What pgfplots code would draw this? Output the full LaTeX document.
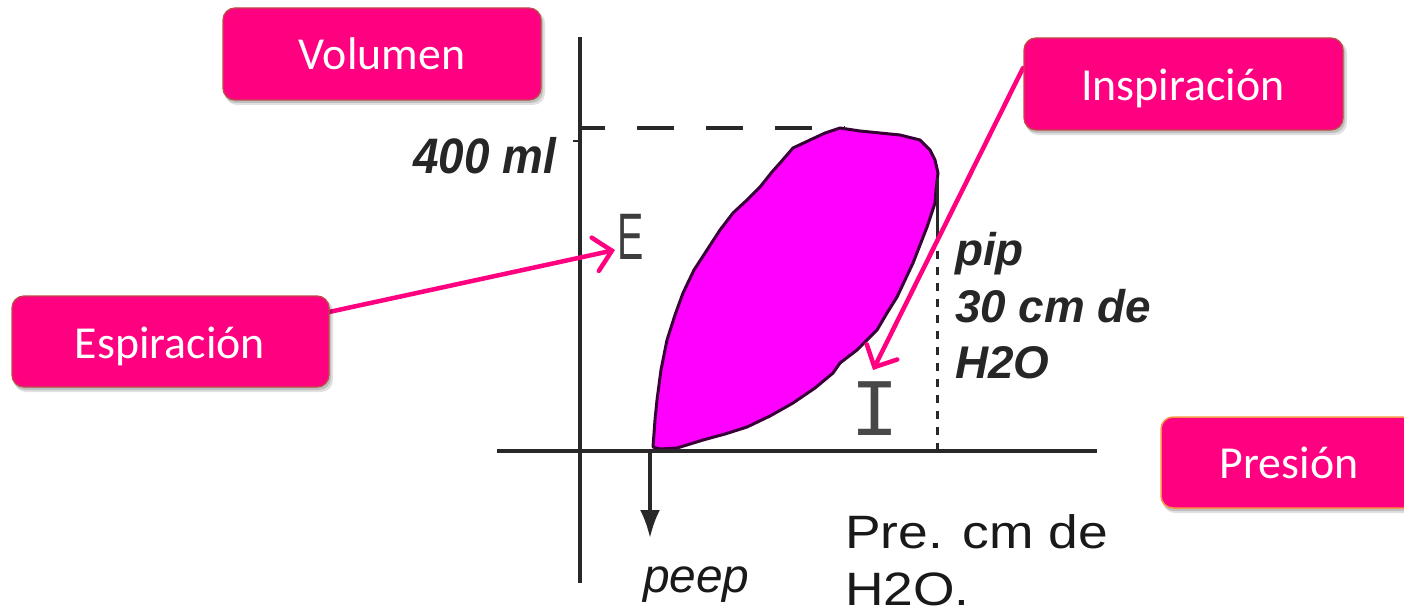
\documentclass[border=0pt]{standalone}
\usepackage{pgfplots}
\pgfplotsset{compat=1.18}
\usepackage{fontspec}
\setmainfont{Carlito}
\newfontfamily\arial{Liberation Sans}
\newfontfamily\mono{Liberation Mono}
\usetikzlibrary{arrows.meta}
\definecolor{boxpink}{RGB}{255,0,128}
\definecolor{boxedge}{RGB}{190,75,72}
\definecolor{presedge}{RGB}{247,150,70}
\definecolor{loopfill}{RGB}{255,0,255}
\definecolor{loopedge}{RGB}{55,0,55}
\definecolor{axisgray}{RGB}{40,40,40}
\begin{document}
\begin{tikzpicture}
\useasboundingbox (0,0) rectangle (1404bp,612bp);
\clip (0,0) rectangle (1404bp,612bp);
\begin{axis}[
  scale only axis, width=1404bp, height=612bp,
  xmin=0, xmax=1404, ymin=0, ymax=612, y dir=reverse,
  hide axis, clip=false,
]
% P-V loop
\addplot[fill=loopfill, draw=loopedge, line width=3bp, line join=round] coordinates {
(653,447) (655,420) (657,400) (661,370) (667,340) (675,315) (683,293) (694,270)
(707,250) (720,230) (733,213) (747,200) (760,187) (772,172) (780,163) (793,148)
(810,140) (825,133) (840,128) (860,131) (880,133) (900,135) (920,140) (930,150)
(935,160) (938,173) (936,190) (935,203) (927,227) (920,245) (913,263) (905,280)
(897,297) (887,313) (877,330) (857,350) (840,363) (833,373) (815,388) (793,403)
(770,416) (747,427) (725,434) (703,440) (677,448) (660,449)} --cycle;
% axes
\addplot[axisgray, line width=3.5bp] coordinates {(580,37) (580,583)};
\addplot[axisgray, line width=3.5bp] coordinates {(497,451) (1097,451)};
\addplot[axisgray, line width=2bp] coordinates {(573,141) (580,141)};
% 400 ml dashed
\addplot[axisgray, line width=4bp, dash pattern=on 37bp off 32bp, dash phase=12bp] coordinates {(580,127.5) (845,127.5)};
% pip line
\addplot[axisgray, line width=3bp] coordinates {(937,178) (937,235)};
\addplot[axisgray, line width=3bp, dash pattern=on 8bp off 8bp] coordinates {(937,235) (937,451)};
% peep arrow
\draw[axisgray, line width=3.5bp, -{Latex[length=28bp,width=20bp]}] (650,451) -- (650,538);
% labels of diagram
\node[anchor=base west, inner sep=0, font=\arial\bfseries\itshape\fontsize{50}{56}\selectfont, xscale=0.92, text=black!85] at (413,173) {400 ml};
\node[anchor=base west, inner sep=0, font=\arial\bfseries\itshape\fontsize{46}{56}\selectfont, text=black!85] at (955,265) {pip};
\node[anchor=base west, inner sep=0, font=\arial\bfseries\itshape\fontsize{46}{56}\selectfont, text=black!85] at (955,322) {30 cm de};
\node[anchor=base west, inner sep=0, font=\arial\bfseries\itshape\fontsize{46}{56}\selectfont, text=black!85] at (955,378) {H2O};
\node[anchor=base west, inner sep=0, font=\arial\fontsize{47}{56}\selectfont, xscale=1.14, text=black!90] at (845,548) {Pre. cm de};
\node[anchor=base west, inner sep=0, font=\arial\fontsize{47}{56}\selectfont, xscale=1.14, text=black!90] at (845,605) {H2O.};
\node[anchor=base west, inner sep=0, font=\arial\itshape\fontsize{48}{56}\selectfont, text=black!90] at (643,592) {peep};
\node[anchor=base west, inner sep=0, font=\arial\fontsize{66}{70}\selectfont, xscale=0.6, text=axisgray!90] at (617,259) {E};
\node[anchor=base, inner sep=0, font=\mono\fontsize{82}{86}\selectfont, text=axisgray!85] at (875,435) {I};
% callout arrows
\draw[boxpink, line width=4.5bp, line cap=round, -{Straight Barb[length=17bp,width=34bp,line cap=round]}] (329,312) -- (615,250);
\draw[boxpink, line width=4.5bp, line cap=round, -{Straight Barb[length=17bp,width=34bp,line cap=round]}] (1023,68) -- (873,370);
% callout boxes: shadows
\fill[black, opacity=0.12, rounded corners=12bp] (225,11) rectangle (545,105);
\fill[black, opacity=0.12, rounded corners=12bp] (14,299) rectangle (333,392);
\fill[black, opacity=0.12, rounded corners=12bp] (1026,41) rectangle (1347,135);
\fill[black, opacity=0.12, rounded corners=12bp] (1163,420) rectangle (1424,513);
\fill[black, opacity=0.15, rounded corners=12bp] (224,10) rectangle (543,103);
\fill[black, opacity=0.15, rounded corners=12bp] (13,298) rectangle (331,390);
\fill[black, opacity=0.15, rounded corners=12bp] (1025,40) rectangle (1345,133);
\fill[black, opacity=0.15, rounded corners=12bp] (1162,419) rectangle (1422,511);
% boxes
\draw[fill=boxpink, draw=boxedge, line width=1.3bp, rounded corners=12bp] (223,8) rectangle (541,100);
\draw[fill=boxpink, draw=boxedge, line width=1.3bp, rounded corners=12bp] (12,296) rectangle (329,387);
\draw[fill=boxpink, draw=boxedge, line width=1.3bp, rounded corners=12bp] (1024,38) rectangle (1343,130);
\draw[fill=boxpink, draw=presedge, line width=1.5bp, rounded corners=12bp] (1161,417) rectangle (1420,508);
\node[anchor=base, text=white, inner sep=0, font=\fontsize{46}{50}\selectfont] at (382,70) {Volumen};
\node[anchor=base, text=white, inner sep=0, font=\fontsize{46}{50}\selectfont] at (170,358) {Espiración};
\node[anchor=base, text=white, inner sep=0, font=\fontsize{46}{50}\selectfont] at (1183,100.5) {Inspiración};
\node[anchor=base, text=white, inner sep=0, font=\fontsize{46}{50}\selectfont] at (1289,478) {Presión};
\end{axis}
\end{tikzpicture}
\end{document}
